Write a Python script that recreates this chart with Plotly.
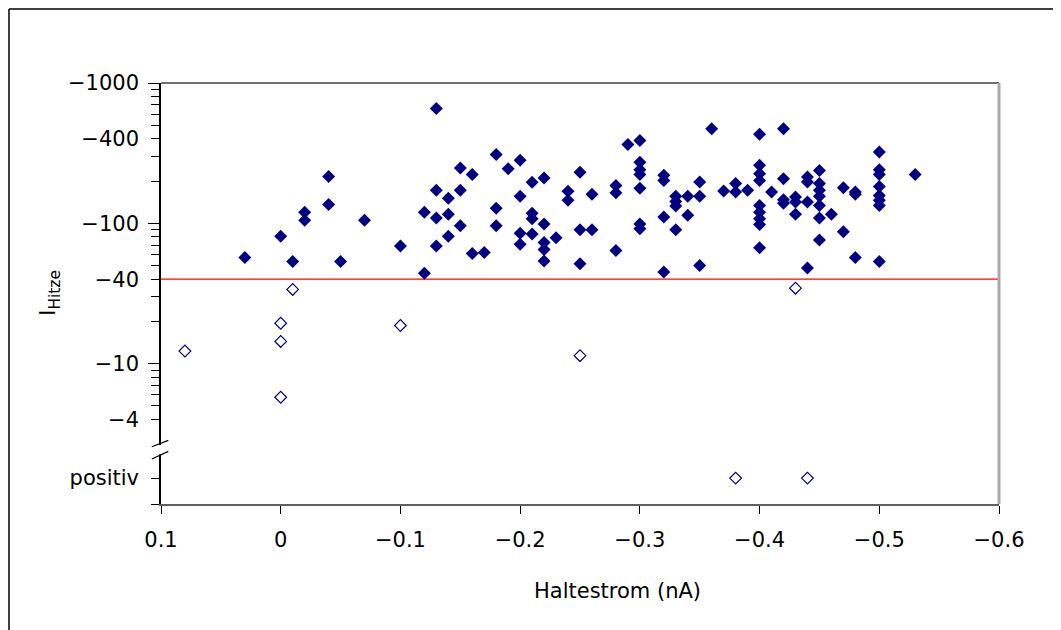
import plotly.graph_objects as go

# Filled diamonds: Haltestrom (nA) and |I_Hitze| magnitude (values are negative)
fill_x = [-0.13, -0.04, -0.04, -0.02, -0.02, 0.00, 0.03, -0.01, -0.05, -0.07, -0.10, -0.12,
          -0.13, -0.13, -0.13, -0.12,
          -0.14, -0.14, -0.14, -0.15, -0.15, -0.15, -0.16, -0.16, -0.17, -0.18, -0.18, -0.18,
          -0.19, -0.20, -0.20, -0.20, -0.20, -0.21, -0.21, -0.21, -0.21, -0.22, -0.22, -0.22,
          -0.22, -0.22, -0.23, -0.24, -0.24, -0.25, -0.25, -0.25, -0.26, -0.26, -0.28, -0.28,
          -0.28, -0.29, -0.30, -0.30, -0.30, -0.30, -0.30, -0.30, -0.30, -0.32, -0.32, -0.32,
          -0.32, -0.33, -0.33, -0.33, -0.33, -0.34, -0.34, -0.35, -0.35, -0.35, -0.36, -0.37,
          -0.38, -0.38, -0.39, -0.40, -0.40, -0.40, -0.40, -0.40, -0.40, -0.40, -0.40, -0.40,
          -0.41, -0.42, -0.42, -0.42, -0.42, -0.43, -0.43, -0.43, -0.44, -0.44, -0.44, -0.44,
          -0.45, -0.45, -0.45, -0.45, -0.45, -0.45, -0.45, -0.46, -0.47, -0.47, -0.48, -0.48,
          -0.48, -0.50, -0.50, -0.50, -0.50, -0.50, -0.50, -0.50, -0.50, -0.53]
fill_y = [657, 216, 136, 120, 105, 81, 57, 53.5, 53.5, 105, 69, 120,
          172, 109, 69, 44,
          151, 116, 81, 248, 172, 96, 223, 61, 62, 309, 128, 96,
          245, 281, 156, 85, 71, 196, 118, 108, 84, 210, 99, 73,
          65, 54, 79, 169, 146, 231, 90, 51.5, 161, 90, 186, 165,
          64, 365, 390, 273, 241, 223, 178, 99, 91.5, 220, 202, 111,
          45, 156, 143, 133, 90, 156, 114, 197, 156, 50, 473, 170,
          192, 167, 172, 431, 259, 226, 202, 134, 120, 108, 98, 67,
          167, 473, 208, 147, 139, 154, 142, 116, 214, 197, 142, 48,
          238, 192, 172, 156, 134, 109, 76, 116, 179, 87, 167, 161,
          57, 322, 241, 223, 183, 158, 146, 134, 53.5, 223]

# Open diamonds (below threshold)
open_x = [0.08, 0.00, 0.00, 0.00, -0.01, -0.10, -0.25, -0.43]
open_y = [12.3, 19.4, 14.4, 5.76, 33.8, 18.7, 11.4, 34.5]

# Open diamonds with positive current
pos_x = [-0.38, -0.44]
POSITIV = 1.53
pos_y = [POSITIV] * len(pos_x)

threshold = 40
x_ticks = [0.1, 0.0, -0.1, -0.2, -0.3, -0.4, -0.5, -0.6]
x_ticktext = ["0.1", "0", "\u22120.1", "\u22120.2", "\u22120.3", "\u22120.4", "\u22120.5", "\u22120.6"]
y_ticks = [1000, 400, 100, 40, 10, 4, POSITIV]
y_ticktext = ["\u22121000", "\u2212400", "\u2212100", "\u221240", "\u221210", "\u22124", "positiv"]
y_minor = [900, 800, 700, 600, 500, 300, 200, 90, 80, 70, 60, 50, 30, 20, 9, 8, 7, 6, 5, 1]
y_decades = [1000, 100, 10]

NAVY = "#000080"
FONT = "DejaVu Sans"

fig = go.Figure()
fig.add_trace(go.Scatter(x=[x_ticks[0], x_ticks[-1]], y=[threshold, threshold], mode="lines",
                         line=dict(color="#ff0000", width=1.3), hoverinfo="skip", showlegend=False))
fig.add_trace(go.Scatter(x=fill_x, y=fill_y, mode="markers",
                         marker=dict(symbol="diamond", size=10, color=NAVY, line=dict(width=0)),
                         showlegend=False))
fig.add_trace(go.Scatter(x=open_x + pos_x, y=open_y + pos_y, mode="markers",
                         marker=dict(symbol="diamond-open", size=9, color=NAVY, line=dict(width=1.2)),
                         showlegend=False))
fig.add_trace(go.Scatter(x=[0.0], y=[100], yaxis="y2", mode="markers",
                         marker=dict(size=1, opacity=0), showlegend=False, hoverinfo="skip"))

fig.update_layout(
    width=1061, height=630, autosize=False,
    margin=dict(l=153, r=70, t=75, b=134, autoexpand=False),
    paper_bgcolor="white", plot_bgcolor="white",
    font=dict(family=FONT, size=21, color="black"),
    xaxis=dict(range=[0.1, -0.6], tickvals=x_ticks, ticktext=x_ticktext,
               showgrid=False, zeroline=False, showline=True, linecolor="#606060", linewidth=2,
               ticks="outside", ticklen=8, tickcolor="black", tickwidth=1,
               ticklabelstandoff=8, tickfont=dict(size=21)),
    yaxis=dict(type="log", range=[0, 3], tickvals=y_ticks, ticktext=y_ticktext,
               showgrid=False, zeroline=False, showline=True, linecolor="black", linewidth=1.5,
               ticks="outside", ticklen=8, tickcolor="black", tickwidth=1,
               ticklabelstandoff=8, tickfont=dict(size=21),
               minor=dict(tickvals=y_minor, ticks="outside", ticklen=8, tickcolor="black", tickwidth=1)),
    yaxis2=dict(type="log", range=[0, 3], overlaying="y", side="left", anchor="x",
                tickvals=y_decades, showticklabels=False, showgrid=False, zeroline=False,
                showline=False, ticks="outside", ticklen=12, tickcolor="black", tickwidth=1),
)

shapes = [
    # top and right frame of the plot area
    dict(type="line", xref="paper", yref="paper", x0=0, x1=1, y0=1, y1=1,
         line=dict(color="#707070", width=2)),
    dict(type="line", xref="paper", yref="paper", x0=1, x1=1, y0=0, y1=1,
         line=dict(color="#a8a8a8", width=3)),
    # axis break: white gap plus two slashes
    dict(type="rect", xref="paper", yref="paper", x0=-0.004, x1=0.004, y0=0.118, y1=0.14,
         line=dict(width=0), fillcolor="white"),
    dict(type="line", xref="paper", yref="paper", x0=-0.011, x1=0.0087, y0=0.136, y1=0.151,
         line=dict(color="black", width=1.2)),
    dict(type="line", xref="paper", yref="paper", x0=-0.011, x1=0.0087, y0=0.107, y1=0.125,
         line=dict(color="black", width=1.2)),
    # outer border (left and top edges)
    dict(type="line", xref="paper", yref="paper", x0=-0.1814, x1=-0.1814, y0=-0.35, y1=1.1758,
         line=dict(color="black", width=1.5)),
    dict(type="line", xref="paper", yref="paper", x0=-0.1814, x1=1.2, y0=1.1758, y1=1.1758,
         line=dict(color="black", width=1.5)),
]
fig.update_layout(shapes=shapes)

fig.add_annotation(text="I<sub>Hitze</sub>", xref="paper", yref="paper", x=-0.133, y=0.5,
                   textangle=-90, showarrow=False, font=dict(size=22), xanchor="center", yanchor="middle")
fig.add_annotation(text="Haltestrom (nA)", xref="paper", yref="paper", x=0.545, y=-0.206,
                   showarrow=False, font=dict(size=21), xanchor="center", yanchor="middle")

fig.write_html("out.html")
